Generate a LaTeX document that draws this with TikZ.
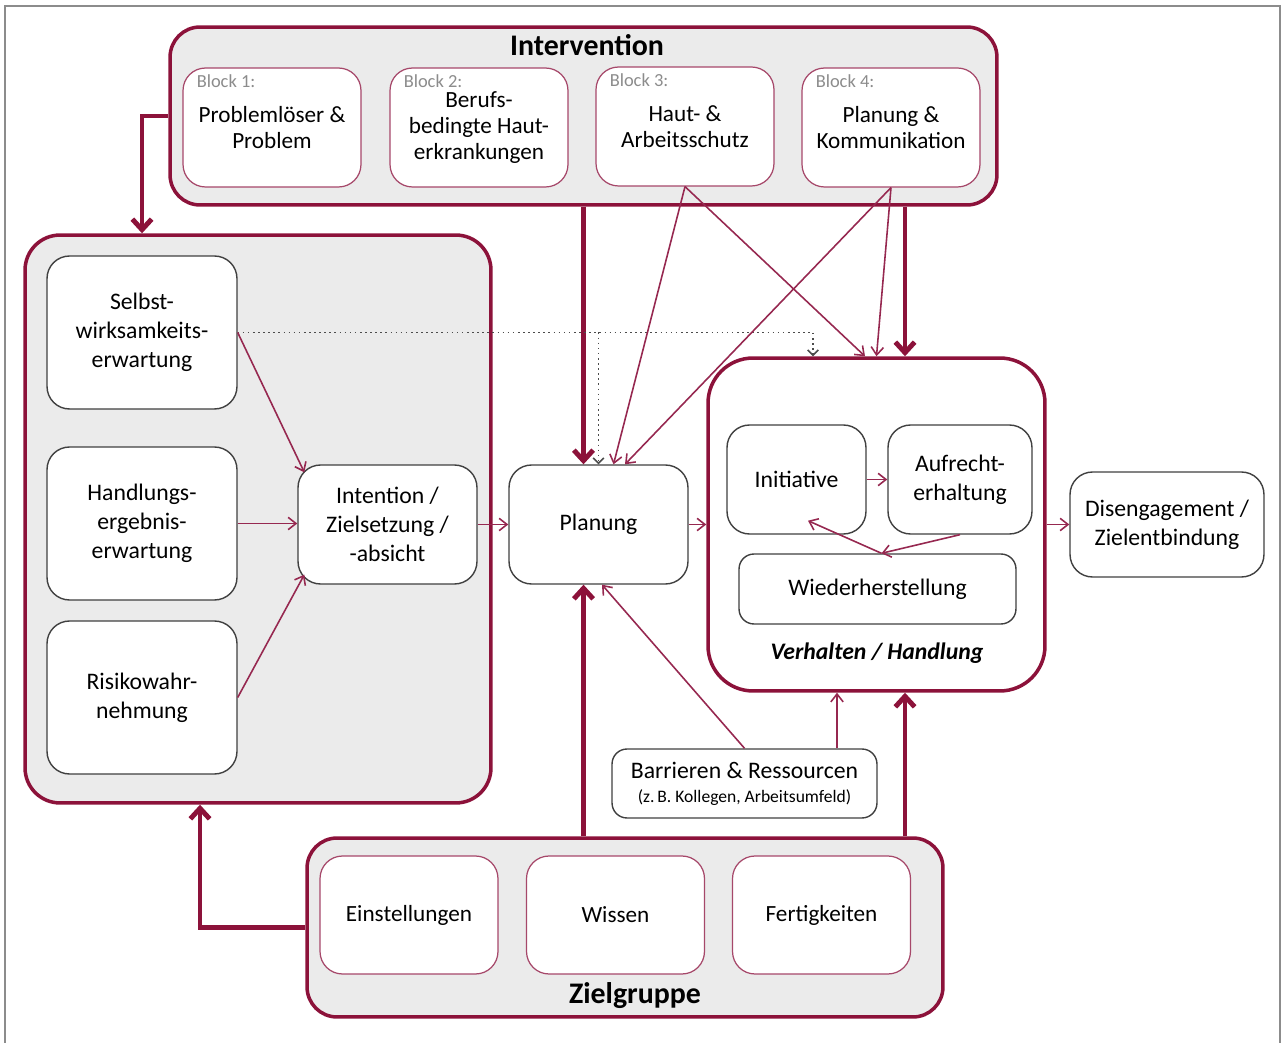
\documentclass[tikz,border=0pt]{standalone}
\usepackage{fontspec}
\setmainfont{Carlito}
\usetikzlibrary{arrows.meta}
\definecolor{wine}{RGB}{140,18,58}
\definecolor{winethin}{RGB}{150,40,80}
\definecolor{hatch}{RGB}{235,235,235}

\begin{document}
\begin{tikzpicture}[x=0.02cm,y=-0.02cm,
    font=\fontsize{13.5}{16.5}\selectfont,
    container/.style={draw=wine,line width=2pt,fill=hatch,rounded corners=0.6cm},
    block/.style={draw=winethin!85,line width=0.7pt,fill=white,rounded corners=0.45cm,
      minimum width=3.56cm,minimum height=2.38cm,align=center,
      font=\fontsize{13.2}{14.9}\selectfont},
    blocklabel/.style={anchor=north west,inner sep=0pt,text=black!45,
      font=\fontsize{10.5}{12}\selectfont},
    box/.style={draw=black!75,line width=0.8pt,fill=white,rounded corners=0.45cm,align=center},
    title/.style={font=\fontsize{17}{20}\selectfont\bfseries},
    bigarrow/.style={draw=wine,line width=2.8pt,-{Straight Barb[length=6pt,width=11pt]}},
    arrow/.style={draw=winethin,line width=0.9pt,-{Straight Barb[length=4.5pt,width=7pt]}},
    dotarrow/.style={draw=black!70,line width=0.9pt,dotted,-{Straight Barb[length=3pt,width=6pt]}}]
  \useasboundingbox (0,0) rectangle (1282,1043);
  \draw[black!45,line width=1.2pt] (5,1043) -- (5,6) -- (1280,6) -- (1280,1043);

  \node[container,minimum width=16.54cm,minimum height=3.56cm] (interv) at (583.5,116) {};
  \node[title] (intervtitle) at (587,45) {Intervention};
  \node[block] (b1) at (272,127.5) {Problemlöser \&\\Problem};
  \node[block] (b2) at (479,127.5) {Berufs-\\bedingte Haut-\\erkrankungen};
  \node[block] (b3) at (685,126.5) {Haut- \&\\Arbeitsschutz};
  \node[block] (b4) at (891,127.5) {Planung \&\\Kommunikation};
  \node[blocklabel] (b1label) at ([shift={(0.28cm,-0.14cm)}]b1.north west) {Block 1:};
  \node[blocklabel] (b2label) at ([shift={(0.28cm,-0.14cm)}]b2.north west) {Block 2:};
  \node[blocklabel] (b3label) at ([shift={(0.28cm,-0.14cm)}]b3.north west) {Block 3:};
  \node[blocklabel] (b4label) at ([shift={(0.28cm,-0.14cm)}]b4.north west) {Block 4:};

  \node[container,rounded corners=0.7cm,minimum width=9.32cm,minimum height=11.36cm] (motiv) at (258,519) {};
  \node[box,minimum width=3.8cm,minimum height=3.06cm] (selbst) at (142,332.5) {Selbst-\\wirksamkeits-\\erwartung};
  \node[box,minimum width=3.8cm,minimum height=3.06cm] (handl) at (142,523.5) {Handlungs-\\ergebnis-\\erwartung};
  \node[box,minimum width=3.8cm,minimum height=3.06cm] (risiko) at (142,697.5) {Risikowahr-\\nehmung};
  \node[box,minimum width=3.58cm,minimum height=2.38cm] (intention) at (387.5,524.5) {Intention /\\Zielsetzung /\\-absicht};

  \node[box,minimum width=3.58cm,minimum height=2.38cm] (planung) at (598.5,524.5) {Planung};

  \node[container,fill=white,rounded corners=0.9cm,minimum width=6.74cm,minimum height=6.66cm] (verh) at (876.5,524.5) {};
  \node[box,minimum width=2.78cm,minimum height=2.18cm] (initiative) at (796.5,479.5) {Initiative};
  \node[box,minimum width=2.88cm,minimum height=2.18cm] (aufrecht) at (960,479.5) {Aufrecht-\\erhaltung};
  \node[box,rounded corners=0.3cm,minimum width=5.54cm,minimum height=1.4cm] (wieder) at (877.5,589) {Wiederherstellung};
  \node[font=\fontsize{13.5}{16.5}\selectfont\bfseries\itshape] (verhtitle) at (877,653) {Verhalten / Handlung};

  \node[box,minimum width=3.88cm,minimum height=2.1cm] (diseng) at (1167,524.5) {Disengagement /\\Zielentbindung};

  \node[box,rounded corners=0.3cm,minimum width=5.3cm,minimum height=1.38cm] (barr) at (744.5,783.5)
    {Barrieren \& Ressourcen\\[-3pt]{\fontsize{10}{12}\selectfont (z.\,B. Kollegen, Arbeitsumfeld)}};

  \node[container,minimum width=12.72cm,minimum height=3.58cm] (ziel) at (625,927.5) {};
  \node[block,minimum height=2.36cm] (einst) at (409,915) {Einstellungen};
  \node[block,minimum height=2.36cm] (wissen) at (615.5,915) {Wissen};
  \node[block,minimum height=2.36cm] (fertig) at (821.5,915) {Fertigkeiten};
  \node[title] (zieltitle) at (635,996) {Zielgruppe};

  \coordinate (pInT) at ([xshift=-0.3cm]planung.north);
  \coordinate (pInB) at ([xshift=-0.3cm]planung.south);
  \coordinate (vInT) at ([xshift=0.57cm]verh.north);
  \coordinate (vInB) at ([xshift=0.57cm]verh.south);
  \coordinate (mInB) at ([xshift=-1.16cm]motiv.south);
  \coordinate (pT1) at ([xshift=0.3cm]planung.north);
  \coordinate (pT2) at ([xshift=0.53cm]planung.north);
  \coordinate (vT0) at ([xshift=-1.27cm]verh.north);
  \coordinate (vT1) at ([xshift=-0.23cm]verh.north);
  \coordinate (pB1) at ([xshift=0.07cm]planung.south);
  \coordinate (vB1) at ([xshift=-0.79cm]verh.south);
  \coordinate (iNW) at ([shift={(0.14cm,-0.16cm)}]intention.north west);
  \coordinate (iSW) at ([shift={(0.14cm,0.2cm)}]intention.south west);
  \coordinate (wT) at ([xshift=0.08cm]wieder.north);
  \coordinate (iB) at ([shift={(0.23cm,0.28cm)}]initiative.south);

  \begin{scope}[bigarrow]
    \draw (interv.west) -| (selbst.north |- motiv.north);
    \draw (interv.south -| pInT) -- (pInT);
    \draw (interv.south -| vInT) -- (vInT);
    \draw (ziel.west) -| (mInB);
    \draw (ziel.north -| pInB) -- (pInB);
    \draw (ziel.north -| vInB) -- (vInB);
  \end{scope}
  \begin{scope}[dotarrow]
    \draw (selbst.east) -| (vT0);
    \draw (selbst.east -| planung.north) -- (planung.north);
  \end{scope}
  \begin{scope}[arrow]
    \draw (b3.south) -- (pT1);
    \draw (b3.south) -- (vT1);
    \draw (b4.south) -- (pT2);
    \draw (b4.south) -- (verh.north);
    \draw (selbst.east) -- (iNW);
    \draw (handl.east) -- (handl.east -| intention.west);
    \draw (risiko.east) -- (iSW);
    \draw (intention.east) -- (planung.west);
    \draw (planung.east) -- (verh.west);
    \draw (verh.east) -- (diseng.west);
    \draw (initiative.east) -- (aufrecht.west);
    \draw (aufrecht.south) -- (wT);
    \draw (wT) -- (iB);
    \draw (barr.north) -- (pB1);
    \draw (barr.north -| vB1) -- (vB1);
  \end{scope}
\end{tikzpicture}
\end{document}
